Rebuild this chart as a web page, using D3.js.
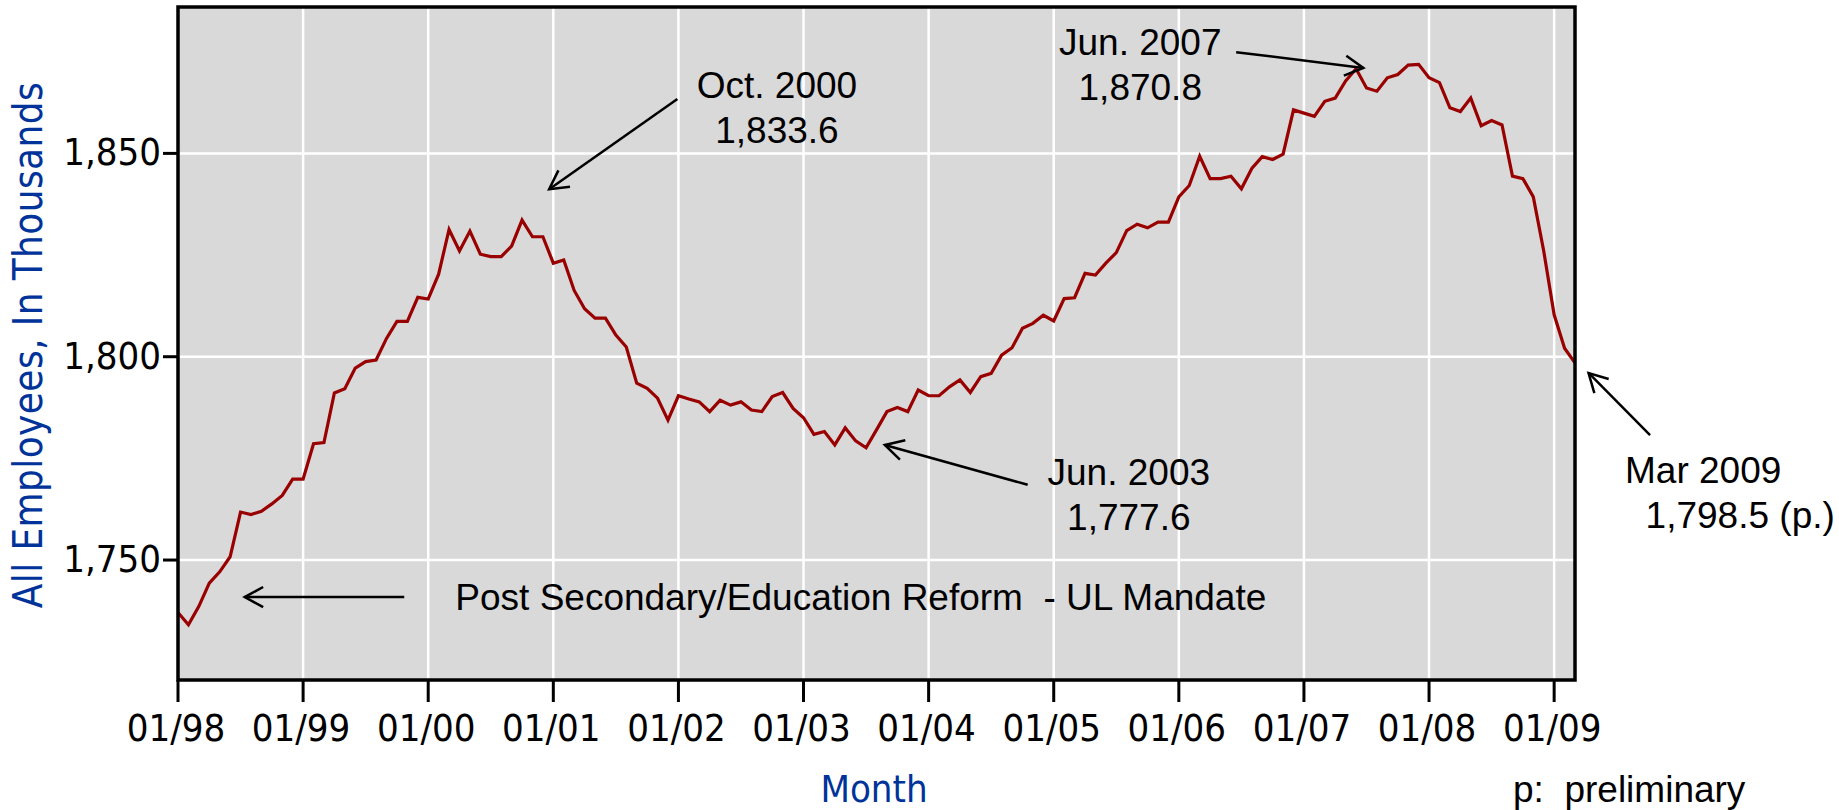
<!DOCTYPE html>
<html>
<head>
<meta charset="utf-8">
<script src="https://cdn.jsdelivr.net/npm/d3@7/dist/d3.min.js"></script>
<style>
  body { margin: 0; background: #fff; }
  text { white-space: pre; }
</style>
</head>
<body>
<svg id="chart" width="1839" height="810"></svg>
<script>
// monthly values, Jan 1998 .. Mar 2009 (thousands)
var employment = [
  1737.1, 1734.1, 1738.6, 1744.3, 1747.1, 1750.8, 1761.8, 1761.2, 1762.0, 1763.8, 1765.9, 1769.9,
  1769.9, 1778.6, 1778.9, 1791.1, 1792.1, 1797.2, 1798.8, 1799.2, 1804.5, 1808.7, 1808.7, 1814.6,
  1814.2, 1820.3, 1831.3, 1826.0, 1830.9, 1825.2, 1824.6, 1824.6, 1827.2, 1833.6, 1829.5, 1829.5,
  1823.0, 1823.8, 1816.3, 1811.8, 1809.5, 1809.5, 1805.3, 1802.4, 1793.5, 1792.2, 1789.8, 1784.4,
  1790.4, 1789.6, 1788.9, 1786.5, 1789.3, 1788.1, 1788.9, 1786.9, 1786.5, 1790.2, 1791.2, 1787.3,
  1785.0, 1780.9, 1781.6, 1778.3, 1782.5, 1779.3, 1777.6, 1782.0, 1786.5, 1787.5, 1786.5, 1791.8,
  1790.4, 1790.4, 1792.6, 1794.3, 1791.2, 1795.1, 1795.9, 1800.4, 1802.2, 1807.0, 1808.2, 1810.2,
  1808.8, 1814.3, 1814.5, 1820.5, 1820.1, 1823.0, 1825.6, 1831.0, 1832.6, 1831.7, 1833.1, 1833.1,
  1839.3, 1842.1, 1849.3, 1843.8, 1843.8, 1844.4, 1841.3, 1846.3, 1849.2, 1848.5, 1849.8, 1860.7,
  1859.9, 1859.1, 1862.8, 1863.6, 1867.8, 1870.8, 1866.1, 1865.3, 1868.6, 1869.4, 1871.7, 1871.9,
  1868.6, 1867.4, 1861.2, 1860.3, 1863.6, 1856.8, 1858.1, 1857.0, 1844.4, 1843.8, 1839.3, 1826.0,
  1810.3, 1802.1, 1798.5
];
var xTickLabels = ["01/98", "01/99", "01/00", "01/01", "01/02", "01/03",
                   "01/04", "01/05", "01/06", "01/07", "01/08", "01/09"];
var yTickValues = [1750, 1800, 1850];

// callouts, placed in data units (month index, value)
var notes = [
  { lines: ["Oct. 2000", "1,833.6"], at: [57.45, 1863.6], anchor: "middle", from: [47.9, 1863.4], to: [35.6, 1841.2] },
  { lines: ["Jun. 2007", "1,870.8"], at: [92.3, 1874.2], anchor: "middle", from: [101.5, 1874.9], to: [113.7, 1871.0] },
  { lines: ["Jun. 2003", "1,777.6"], at: [91.2, 1768.5], anchor: "middle", from: [81.5, 1768.5], to: [67.8, 1778.3] },
  { lines: ["Mar 2009", "  1,798.5 (p.)"], at: [138.8, 1768.9], anchor: "start", from: [141.2, 1780.7], to: [135.3, 1796.0] },
  { lines: ["Post Secondary/Education Reform  - UL Mandate"], at: [26.6, 1737.7], anchor: "start", from: [21.7, 1740.9], to: [6.4, 1740.9] }
];

var svg = d3.select("#chart");
var plotL = 178, plotR = 1575, plotT = 7, plotB = 680;
var pixFont = "'DejaVu Sans Condensed', 'DejaVu Sans', sans-serif";
var textFont = "'Liberation Sans', Arial, sans-serif";

var x = d3.scaleLinear().domain([0, employment.length - 1]).range([plotL, plotR]);
var y = d3.scaleLinear().domain([1720.5, 1886]).range([plotB, plotT]);

svg.append("rect").attr("width", 1839).attr("height", 810).attr("fill", "#fff");

// plot background
svg.append("rect")
    .attr("x", plotL).attr("y", plotT)
    .attr("width", plotR - plotL).attr("height", plotB - plotT)
    .attr("fill", "#d9d9d9");

// grid
svg.append("g").selectAll("line").data(xTickLabels.slice(1)).enter().append("line")
    .attr("x1", function(d, i) { return x((i + 1) * 12); })
    .attr("x2", function(d, i) { return x((i + 1) * 12); })
    .attr("y1", plotT).attr("y2", plotB)
    .attr("stroke", "#fff").attr("stroke-width", 2.5);
svg.append("g").selectAll("line").data(yTickValues).enter().append("line")
    .attr("x1", plotL).attr("x2", plotR)
    .attr("y1", function(d) { return y(d); })
    .attr("y2", function(d) { return y(d); })
    .attr("stroke", "#fff").attr("stroke-width", 2.5);

// series
var line = d3.line()
    .x(function(d, i) { return x(i); })
    .y(function(d) { return y(d); });
svg.append("path")
    .datum(employment)
    .attr("d", line)
    .attr("fill", "none")
    .attr("stroke", "#990000")
    .attr("stroke-width", 3.2);

// callouts
function arrow(g, p0, p1) {
    var x0 = x(p0[0]), y0 = y(p0[1]), x1 = x(p1[0]), y1 = y(p1[1]);
    var a = Math.atan2(y1 - y0, x1 - x0), len = 21, spread = 0.5;
    g.append("line").attr("x1", x0).attr("y1", y0).attr("x2", x1).attr("y2", y1);
    g.append("path").attr("fill", "none")
        .attr("d", "M" + (x1 - len * Math.cos(a - spread)) + "," + (y1 - len * Math.sin(a - spread)) +
                   "L" + x1 + "," + y1 +
                   "L" + (x1 - len * Math.cos(a + spread)) + "," + (y1 - len * Math.sin(a + spread)));
}
var ann = svg.append("g");
notes.forEach(function(n) {
    var g = ann.append("g").attr("stroke", "#000").attr("stroke-width", 2.5);
    arrow(g, n.from, n.to);
    var t = ann.append("text")
        .attr("x", x(n.at[0])).attr("y", y(n.at[1]))
        .attr("text-anchor", n.anchor)
        .attr("font-family", textFont).attr("font-size", 37).attr("fill", "#000");
    n.lines.forEach(function(s, i) {
        t.append("tspan").attr("x", x(n.at[0])).attr("dy", i ? 45 : 0).text(s);
    });
});

// frame
svg.append("rect")
    .attr("x", plotL).attr("y", plotT)
    .attr("width", plotR - plotL).attr("height", plotB - plotT)
    .attr("fill", "none").attr("stroke", "#000").attr("stroke-width", 3.5);

// x axis ticks + labels
var xt = svg.append("g");
xt.selectAll("line").data(xTickLabels).enter().append("line")
    .attr("x1", function(d, i) { return x(i * 12); })
    .attr("x2", function(d, i) { return x(i * 12); })
    .attr("y1", plotB).attr("y2", plotB + 22)
    .attr("stroke", "#000").attr("stroke-width", 3);
xt.selectAll("text").data(xTickLabels).enter().append("text")
    .attr("x", function(d, i) { return x(i * 12) - 2; })
    .attr("y", 741)
    .attr("text-anchor", "middle")
    .attr("font-family", pixFont).attr("font-stretch", "condensed").attr("font-size", 38)
    .text(function(d) { return d; });

// y axis ticks + labels
var yt = svg.append("g");
yt.selectAll("line").data(yTickValues).enter().append("line")
    .attr("x1", plotL - 15).attr("x2", plotL)
    .attr("y1", function(d) { return y(d); })
    .attr("y2", function(d) { return y(d); })
    .attr("stroke", "#000").attr("stroke-width", 3);
yt.selectAll("text").data(yTickValues).enter().append("text")
    .attr("x", 161)
    .attr("y", function(d) { return y(d) + 12; })
    .attr("text-anchor", "end")
    .attr("font-family", pixFont).attr("font-stretch", "condensed").attr("font-size", 38)
    .text(function(d) { return d3.format(",")(d); });

// axis titles
svg.append("text")
    .attr("transform", "translate(42,345) rotate(-90)")
    .attr("text-anchor", "middle")
    .attr("font-family", pixFont).attr("font-stretch", "condensed").attr("font-size", 40)
    .attr("letter-spacing", 0.4)
    .attr("fill", "#003399")
    .text("All Employees, In Thousands");
svg.append("text")
    .attr("x", 874).attr("y", 802)
    .attr("text-anchor", "middle")
    .attr("font-family", pixFont).attr("font-stretch", "condensed").attr("font-size", 38)
    .attr("fill", "#003399")
    .text("Month");

svg.append("text")
    .attr("x", 1513).attr("y", 802)
    .attr("font-family", textFont).attr("font-size", 37)
    .text("p:  preliminary");
</script>
</body>
</html>
